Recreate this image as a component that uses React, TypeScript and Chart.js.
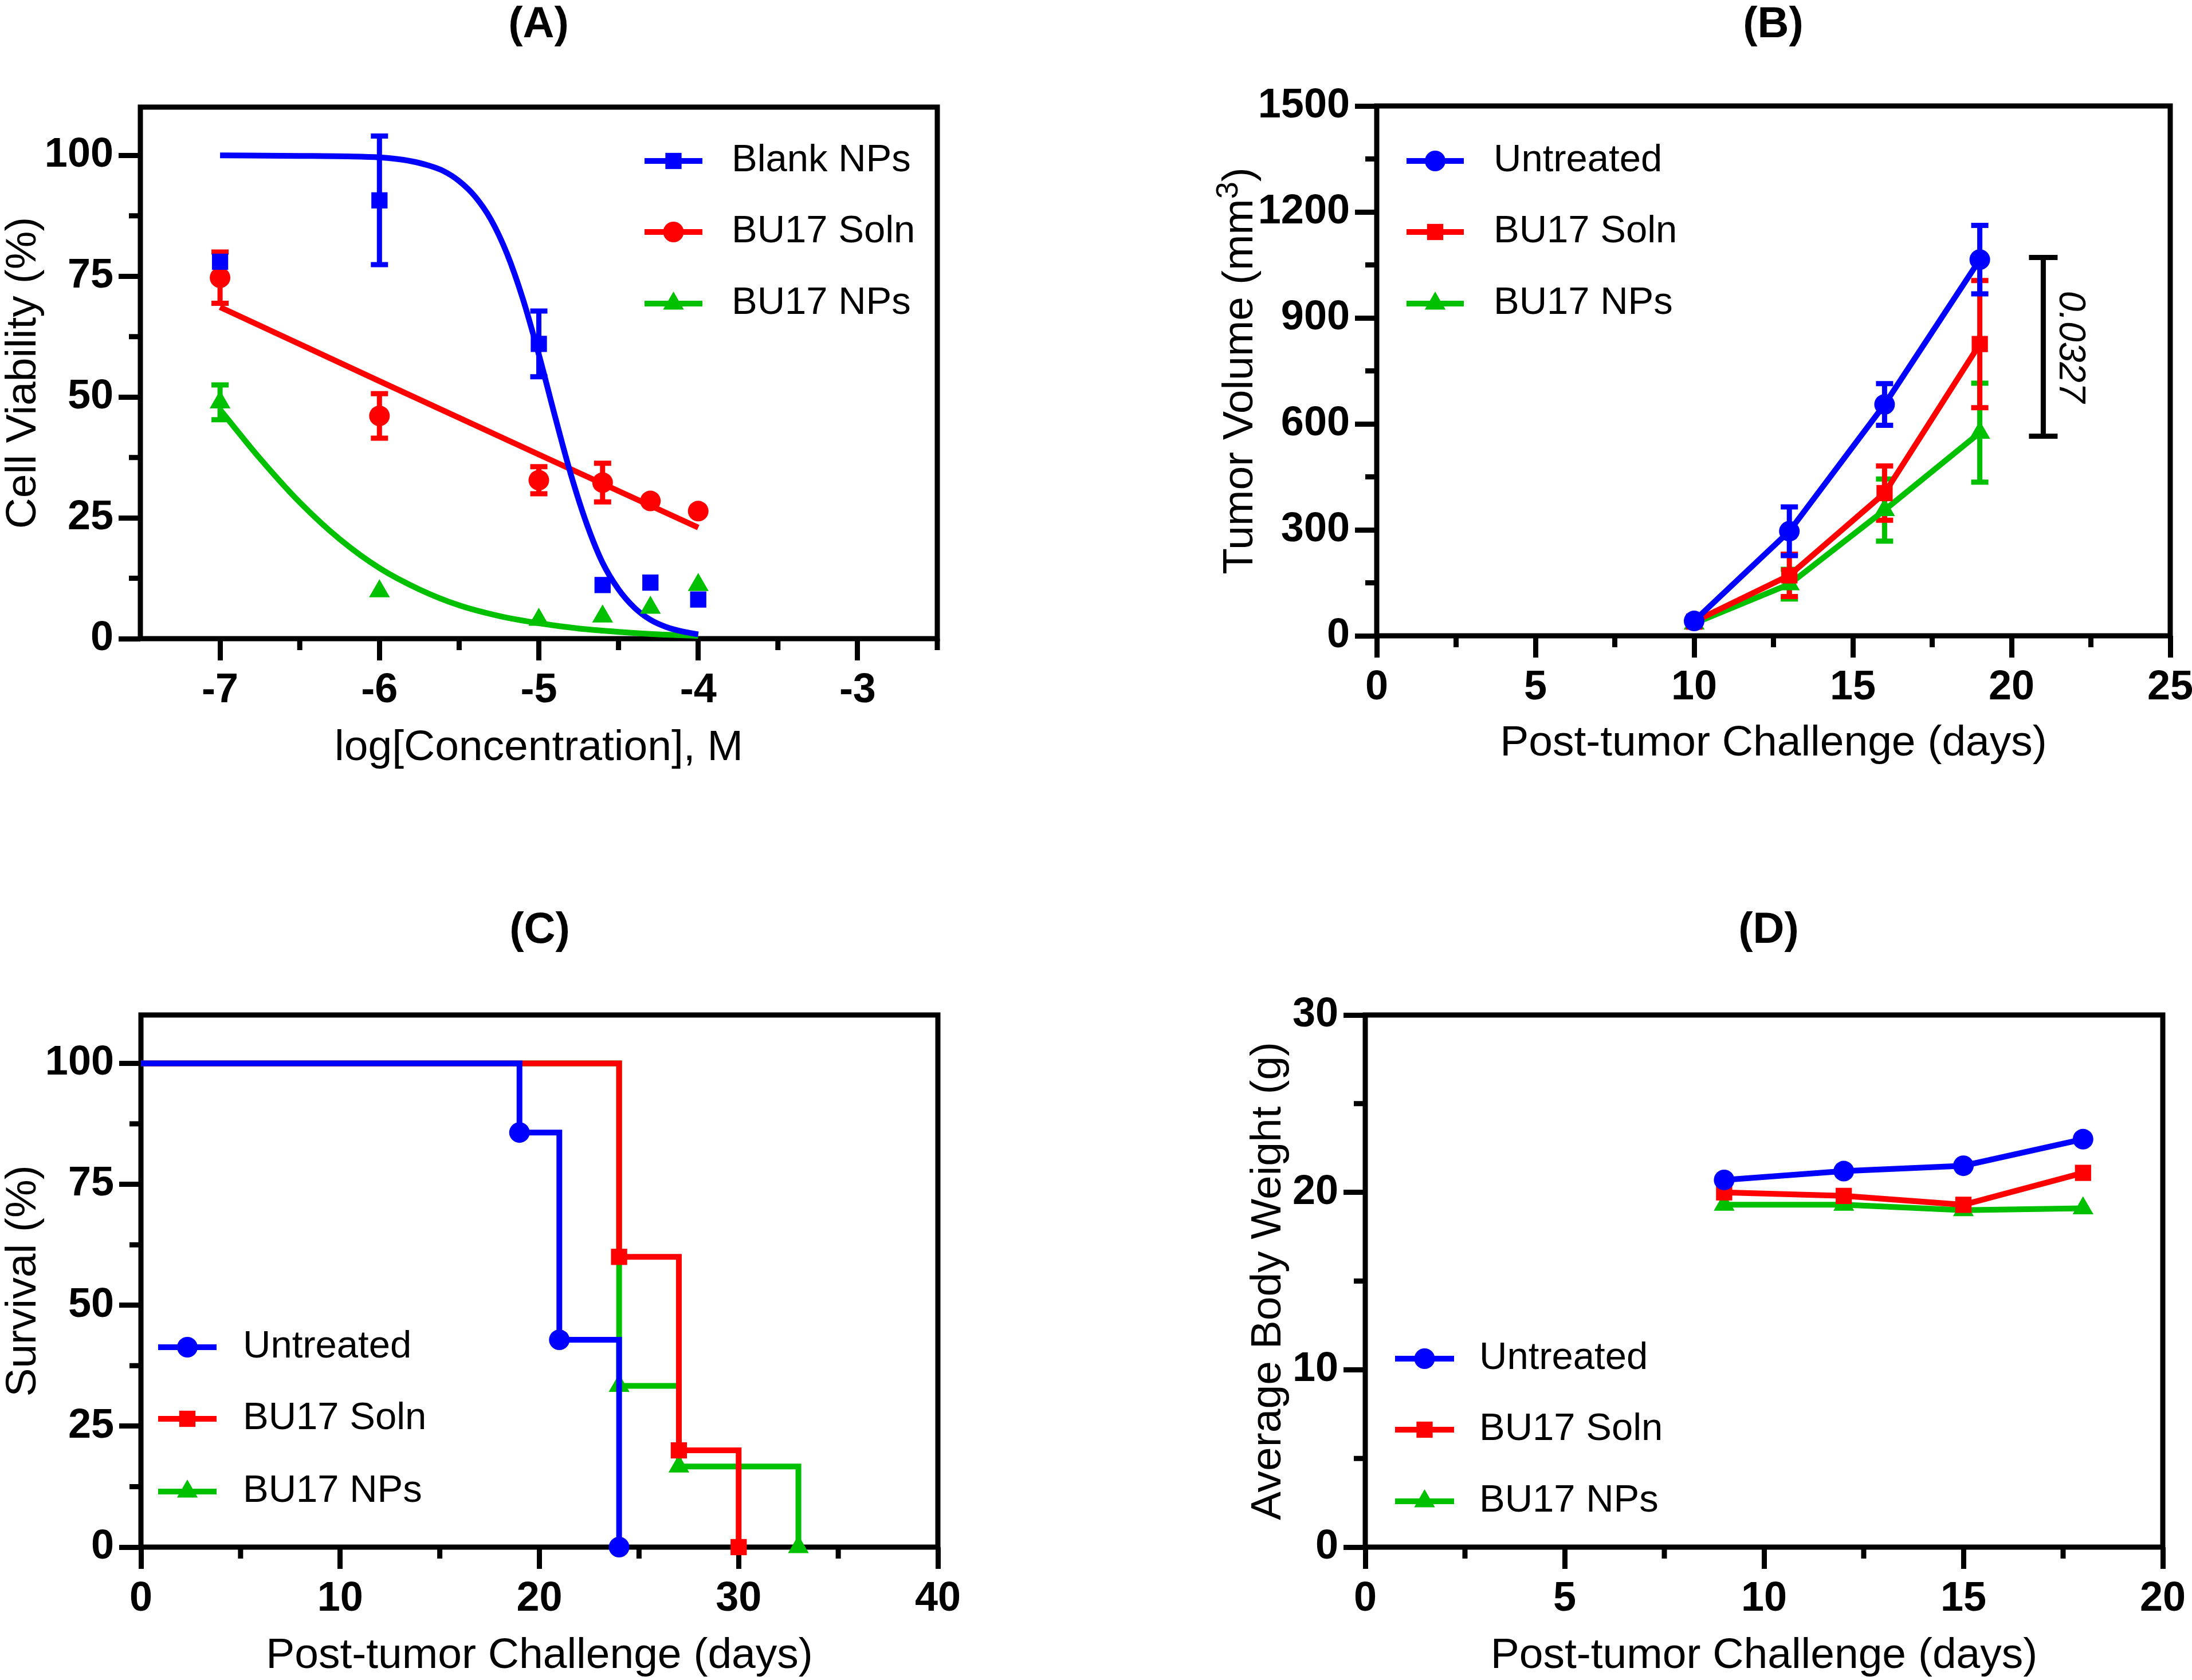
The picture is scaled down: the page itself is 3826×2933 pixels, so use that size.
import React, { useEffect, useRef } from 'react';
import { Chart, registerables } from 'chart.js';

Chart.register(...registerables);

const FONT = "Arial, 'Liberation Sans', Helvetica, sans-serif";
const BLUE = '#0000FF';
const RED = '#FF0000';
const GREEN = '#00C000';

// ---------------- Panel A : cell viability ----------------
const A_X = [-7, -6, -5, -4.6, -4.3, -4];
const A_BLANK = [78.0, 90.7, 61.0, 11.1, 11.6, 8.1];
const A_BLANK_ERR = [0, 13.3, 6.8, 0, 0, 0];
const A_SOLN = [74.7, 46.1, 32.8, 32.3, 28.5, 26.4];
const A_SOLN_ERR = [5.3, 4.6, 2.8, 4.0, 0, 0];
const A_NPS = [48.9, 9.8, 3.9, 4.6, 6.4, 11.1];
const A_NPS_ERR = [3.6, 0, 0, 0, 0, 0];
const A_BLANK_FIT_X = [-7, -6.5, -6.2, -6, -5.9, -5.8, -5.7, -5.6, -5.5, -5.4, -5.3, -5.2, -5.1, -5, -4.9, -4.8, -4.7, -4.6, -4.5, -4.4, -4.3, -4.2, -4.1, -4];
const A_BLANK_FIT_Y = [100, 99.9, 99.8, 99.6, 99.3, 98.8, 98.0, 96.8, 94.7, 91.5, 86.7, 79.7, 70.3, 58.8, 46.2, 34.1, 23.8, 15.7, 10.2, 6.4, 3.9, 2.4, 1.5, 0.9];
const A_SOLN_FIT_X = [-7, -6, -5, -4];
const A_SOLN_FIT_Y = [68.6, 53.3, 38.1, 23.0];
const A_NPS_FIT_X = [-7, -6.75, -6.5, -6.25, -6, -5.75, -5.5, -5.25, -5, -4.75, -4.5, -4.25, -4];
const A_NPS_FIT_Y = [47.4, 37.3, 28.2, 20.6, 14.6, 10.2, 6.9, 4.7, 3.2, 2.1, 1.4, 0.9, 0.6];
const A_X_TICKS = [-7, -6, -5, -4, -3];
const A_X_MINOR = [-6.5, -5.5, -4.5, -3.5, -2.5];
const A_Y_TICKS = [0, 25, 50, 75, 100];
const A_Y_MINOR = [12.5, 37.5, 62.5, 87.5];
const A_LEGEND = ['Blank NPs', 'BU17 Soln', 'BU17 NPs'];

// ---------------- Panel B : tumor volume ----------------
const B_X = [10, 13, 16, 19];
const B_UNTREATED = [42, 296, 655, 1065];
const B_UNTREATED_ERR = [0, 69, 59, 97];
const B_SOLN = [40, 171, 404, 826];
const B_SOLN_ERR = [0, 60, 77, 180];
const B_NPS = [35, 146, 356, 575];
const B_NPS_ERR = [0, 42, 88, 140];
const B_SIG_X = 21;
const B_SIG_Y = [565, 1071];
const B_SIG_LABEL = '0.0327';
const B_X_TICKS = [0, 5, 10, 15, 20, 25];
const B_X_MINOR = [2.5, 7.5, 12.5, 17.5, 22.5];
const B_Y_TICKS = [0, 300, 600, 900, 1200, 1500];
const B_Y_MINOR = [150, 450, 750, 1050, 1350];
const B_Y_TITLE = ['Tumor Volume (mm', '3', ')'];

// ---------------- Panel C : survival ----------------
const C_UNTREATED_X = [0, 19, 21, 24];
const C_UNTREATED_Y = [100, 85.71, 42.86, 0];
const C_SOLN_X = [0, 24, 27, 30];
const C_SOLN_Y = [100, 60, 20, 0];
const C_NPS_X = [0, 24, 27, 33];
const C_NPS_Y = [100, 33.33, 16.67, 0];
const C_X_TICKS = [0, 10, 20, 30, 40];
const C_X_MINOR = [5, 15, 25, 35];
const C_Y_TICKS = [0, 25, 50, 75, 100];
const C_Y_MINOR = [12.5, 37.5, 62.5, 87.5];

// ---------------- Panel D : body weight ----------------
const D_X = [9, 12, 15, 18];
const D_UNTREATED = [20.7, 21.2, 21.5, 23.0];
const D_SOLN = [20.0, 19.8, 19.3, 21.1];
const D_NPS = [19.3, 19.3, 19.0, 19.1];
const D_X_TICKS = [0, 5, 10, 15, 20];
const D_X_MINOR = [2.5, 7.5, 12.5, 17.5];
const D_Y_TICKS = [0, 10, 20, 30];
const D_Y_MINOR = [5, 15, 25];

const GROUP_LEGEND = ['Untreated', 'BU17 Soln', 'BU17 NPs'];

const RADIUS: any = { circle: 18, rect: 20, triangle: 21 };
const LINE_W = 10;

const pts = (xs: number[], ys: number[]) => xs.map((x, i) => ({ x, y: ys[i] }));

function drawMarker(ctx: any, style: string, x: number, y: number) {
  const r = RADIUS[style];
  ctx.beginPath();
  if (style === 'circle') {
    ctx.arc(x, y, r, 0, Math.PI * 2);
  } else if (style === 'rect') {
    const s = r * Math.SQRT1_2;
    ctx.rect(x - s, y - s, 2 * s, 2 * s);
  } else {
    ctx.moveTo(x, y - r);
    ctx.lineTo(x + r * Math.sin((2 * Math.PI) / 3), y - r * Math.cos((2 * Math.PI) / 3));
    ctx.lineTo(x + r * Math.sin((4 * Math.PI) / 3), y - r * Math.cos((4 * Math.PI) / 3));
    ctx.closePath();
  }
  ctx.fill();
}

function lineSet(label: string, color: string, style: string, data: any[], extra: any = {}) {
  return {
    label,
    data,
    borderColor: color,
    backgroundColor: color,
    borderWidth: LINE_W,
    pointStyle: style,
    pointRadius: RADIUS[style],
    pointBackgroundColor: color,
    pointBorderWidth: 0,
    pointHoverRadius: RADIUS[style],
    clip: false,
    showLine: true,
    tension: 0,
    ...extra,
  };
}

function geom(spec: any) {
  const [L, T, R, B] = spec.area;
  const left = spec.yTitleX - 45;
  const top = spec.canvasTop;
  const padRight = 130;
  const width = R + padRight - left;
  const height = spec.xTitleY + 45 - top;
  return {
    left,
    top,
    width,
    height,
    padTop: T - top,
    padRight,
    yWidth: L - left,
    xHeight: spec.xTitleY + 45 - B,
  };
}

function makeDecor(spec: any, g: any) {
  return {
    id: 'decor',
    beforeDatasetsDraw(chart: any) {
      const ctx = chart.ctx;
      const ca = chart.chartArea;
      const xs = chart.scales.x;
      const ys = chart.scales.y;
      ctx.save();
      ctx.strokeStyle = '#000';
      ctx.lineWidth = 9;
      ctx.lineJoin = 'miter';
      ctx.lineCap = 'butt';
      ctx.strokeRect(ca.left, ca.top, ca.right - ca.left, ca.bottom - ca.top);
      ctx.beginPath();
      spec.xMinor.forEach((v: number) => {
        const p = xs.getPixelForValue(v);
        ctx.moveTo(p, ca.bottom);
        ctx.lineTo(p, ca.bottom + 20);
      });
      spec.yMinor.forEach((v: number) => {
        const p = ys.getPixelForValue(v);
        ctx.moveTo(ca.left, p);
        ctx.lineTo(ca.left - 20, p);
      });
      ctx.stroke();
      (spec.errors || []).forEach((e: any) => {
        ctx.strokeStyle = e.color;
        ctx.lineWidth = 9;
        ctx.beginPath();
        e.xs.forEach((xv: number, i: number) => {
          const err = e.err[i];
          if (!err) return;
          const px = xs.getPixelForValue(xv);
          const p1 = ys.getPixelForValue(e.ys[i] + err);
          const p2 = ys.getPixelForValue(e.ys[i] - err);
          ctx.moveTo(px, p1);
          ctx.lineTo(px, p2);
          ctx.moveTo(px - 15, p1);
          ctx.lineTo(px + 15, p1);
          ctx.moveTo(px - 15, p2);
          ctx.lineTo(px + 15, p2);
        });
        ctx.stroke();
      });
      ctx.restore();
    },
    afterDraw(chart: any) {
      const ctx = chart.ctx;
      ctx.save();
      // panel title
      ctx.fillStyle = '#000';
      ctx.font = `bold 76px ${FONT}`;
      ctx.textAlign = 'center';
      ctx.textBaseline = 'middle';
      ctx.fillText(spec.title, spec.titlePos[0] - g.left, spec.titlePos[1] - g.top);
      // legend
      const lg = spec.legend;
      lg.labels.forEach((lab: string, i: number) => {
        const y = lg.rows[i] - g.top;
        const x1 = lg.x1 - g.left;
        const x2 = lg.x2 - g.left;
        ctx.strokeStyle = lg.colors[i];
        ctx.fillStyle = lg.colors[i];
        ctx.lineWidth = LINE_W;
        ctx.beginPath();
        ctx.moveTo(x1, y);
        ctx.lineTo(x2, y);
        ctx.stroke();
        drawMarker(ctx, lg.styles[i], (x1 + x2) / 2, y);
        ctx.fillStyle = '#000';
        ctx.font = `67px ${FONT}`;
        ctx.textAlign = 'left';
        ctx.textBaseline = 'middle';
        ctx.fillText(lab, lg.tx - g.left, y);
      });
      if (spec.extra) spec.extra(ctx, chart, g);
      ctx.restore();
    },
  };
}

function buildConfig(spec: any, g: any) {
  const tickFont = { family: FONT, size: 72, weight: 'bold' };
  const titleFont = { family: FONT, size: 75, weight: 'normal', lineHeight: 1.2 };
  const grid = {
    display: true,
    drawOnChartArea: false,
    drawTicks: true,
    tickLength: 38,
    tickWidth: 9,
    tickColor: '#000',
  };
  return {
    type: 'line',
    data: { datasets: spec.datasets },
    options: {
      animation: false,
      responsive: false,
      devicePixelRatio: 1,
      events: [],
      layout: { padding: { top: g.padTop, left: 0, right: g.padRight, bottom: 0 } },
      plugins: {
        legend: { display: false },
        title: { display: false },
        tooltip: { enabled: false },
      },
      scales: {
        x: {
          type: 'linear',
          position: 'bottom',
          min: spec.xMin,
          max: spec.xMax,
          afterBuildTicks: (s: any) => {
            s.ticks = spec.xTicks.map((v: number) => ({ value: v }));
          },
          afterFit: (s: any) => {
            s.height = g.xHeight;
          },
          ticks: {
            font: tickFont,
            color: '#000',
            padding: 10,
            maxRotation: 0,
            minRotation: 0,
            autoSkip: false,
            callback: (v: any) => String(v),
          },
          grid,
          border: { display: false },
          title: { display: true, text: spec.xLabel, font: titleFont, color: '#000', padding: 0 },
        },
        y: {
          type: 'linear',
          position: 'left',
          min: spec.yMin,
          max: spec.yMax,
          afterBuildTicks: (s: any) => {
            s.ticks = spec.yTicks.map((v: number) => ({ value: v }));
          },
          afterFit: (s: any) => {
            s.width = g.yWidth;
          },
          ticks: {
            font: tickFont,
            color: '#000',
            padding: 9,
            autoSkip: false,
            callback: (v: any) => String(v),
          },
          grid,
          border: { display: false },
          title: {
            display: !!spec.yLabel,
            text: spec.yLabel || '',
            font: titleFont,
            color: '#000',
            padding: 0,
          },
        },
      },
    },
    plugins: [makeDecor(spec, g)],
  };
}

function Panel({ spec }: { spec: any }) {
  const ref = useRef<HTMLCanvasElement>(null);
  const g = geom(spec);
  useEffect(() => {
    const chart = new Chart(ref.current as any, buildConfig(spec, g) as any);
    return () => chart.destroy();
  }, []);
  return (
    <canvas
      ref={ref}
      width={g.width}
      height={g.height}
      style={{ position: 'absolute', left: g.left, top: g.top, width: g.width, height: g.height }}
    />
  );
}

const SPEC_A = {
  area: [245, 187, 1636, 1115],
  canvasTop: 0,
  yTitleX: 41,
  xTitleY: 1306,
  title: '(A)',
  titlePos: [940, 44],
  xMin: -7.5,
  xMax: -2.5,
  yMin: 0,
  yMax: 110,
  xTicks: A_X_TICKS,
  yTicks: A_Y_TICKS,
  xMinor: A_X_MINOR,
  yMinor: A_Y_MINOR,
  xLabel: 'log[Concentration], M',
  yLabel: 'Cell Viability (%)',
  datasets: [
    lineSet('Blank NPs', BLUE, 'rect', pts(A_X, A_BLANK), { showLine: false }),
    lineSet('BU17 Soln', RED, 'circle', pts(A_X, A_SOLN), { showLine: false }),
    lineSet('BU17 NPs', GREEN, 'triangle', pts(A_X, A_NPS), { showLine: false }),
    lineSet('Blank NPs fit', BLUE, 'circle', pts(A_BLANK_FIT_X, A_BLANK_FIT_Y), { pointRadius: 0, cubicInterpolationMode: 'monotone' }),
    lineSet('BU17 Soln fit', RED, 'circle', pts(A_SOLN_FIT_X, A_SOLN_FIT_Y), { pointRadius: 0, cubicInterpolationMode: 'monotone' }),
    lineSet('BU17 NPs fit', GREEN, 'circle', pts(A_NPS_FIT_X, A_NPS_FIT_Y), { pointRadius: 0, cubicInterpolationMode: 'monotone' }),
  ],
  errors: [
    { color: BLUE, xs: A_X, ys: A_BLANK, err: A_BLANK_ERR },
    { color: RED, xs: A_X, ys: A_SOLN, err: A_SOLN_ERR },
    { color: GREEN, xs: A_X, ys: A_NPS, err: A_NPS_ERR },
  ],
  legend: {
    labels: A_LEGEND,
    colors: [BLUE, RED, GREEN],
    styles: ['rect', 'circle', 'triangle'],
    x1: 1125,
    x2: 1226,
    tx: 1277,
    rows: [281, 405, 530],
  },
};

const SPEC_B = {
  area: [2403, 185, 3788, 1110],
  canvasTop: 0,
  yTitleX: 2160,
  xTitleY: 1298,
  title: '(B)',
  titlePos: [3095, 44],
  xMin: 0,
  xMax: 25,
  yMin: 0,
  yMax: 1500,
  xTicks: B_X_TICKS,
  yTicks: B_Y_TICKS,
  xMinor: B_X_MINOR,
  yMinor: B_Y_MINOR,
  xLabel: 'Post-tumor Challenge (days)',
  yLabel: '',
  datasets: [
    lineSet('Untreated', BLUE, 'circle', pts(B_X, B_UNTREATED)),
    lineSet('BU17 Soln', RED, 'rect', pts(B_X, B_SOLN)),
    lineSet('BU17 NPs', GREEN, 'triangle', pts(B_X, B_NPS)),
  ],
  errors: [
    { color: GREEN, xs: B_X, ys: B_NPS, err: B_NPS_ERR },
    { color: RED, xs: B_X, ys: B_SOLN, err: B_SOLN_ERR },
    { color: BLUE, xs: B_X, ys: B_UNTREATED, err: B_UNTREATED_ERR },
  ],
  legend: {
    labels: GROUP_LEGEND,
    colors: [BLUE, RED, GREEN],
    styles: ['circle', 'rect', 'triangle'],
    x1: 2455,
    x2: 2555,
    tx: 2607,
    rows: [281, 405, 530],
  },
  extra: (ctx: any, chart: any, g: any) => {
    const xs = chart.scales.x;
    const ys = chart.scales.y;
    const ca = chart.chartArea;
    // y-axis title with superscript
    ctx.save();
    ctx.translate(2160 - g.left, (ca.top + ca.bottom) / 2);
    ctx.rotate(-Math.PI / 2);
    ctx.fillStyle = '#000';
    ctx.textBaseline = 'alphabetic';
    ctx.textAlign = 'left';
    const mainFont = `75px ${FONT}`;
    const supFont = `54px ${FONT}`;
    ctx.font = mainFont;
    const w1 = ctx.measureText(B_Y_TITLE[0]).width;
    const w3 = ctx.measureText(B_Y_TITLE[2]).width;
    ctx.font = supFont;
    const w2 = ctx.measureText(B_Y_TITLE[1]).width;
    const total = w1 + w2 + w3;
    let x0 = -total / 2;
    const base = 26;
    ctx.font = mainFont;
    ctx.fillText(B_Y_TITLE[0], x0, base);
    x0 += w1;
    ctx.font = supFont;
    ctx.fillText(B_Y_TITLE[1], x0, base - 26);
    x0 += w2;
    ctx.font = mainFont;
    ctx.fillText(B_Y_TITLE[2], x0, base);
    ctx.restore();
    // significance bracket
    const px = xs.getPixelForValue(B_SIG_X);
    const p1 = ys.getPixelForValue(B_SIG_Y[1]);
    const p2 = ys.getPixelForValue(B_SIG_Y[0]);
    ctx.strokeStyle = '#000';
    ctx.lineWidth = 9;
    ctx.beginPath();
    ctx.moveTo(px, p1);
    ctx.lineTo(px, p2);
    ctx.moveTo(px - 25, p1);
    ctx.lineTo(px + 25, p1);
    ctx.moveTo(px - 25, p2);
    ctx.lineTo(px + 25, p2);
    ctx.stroke();
    ctx.save();
    ctx.translate(px + 46, (p1 + p2) / 2);
    ctx.rotate(Math.PI / 2);
    ctx.fillStyle = '#000';
    ctx.font = `italic 64px ${FONT}`;
    ctx.textAlign = 'center';
    ctx.textBaseline = 'middle';
    ctx.fillText(B_SIG_LABEL, 0, 0);
    ctx.restore();
  },
};

const stepRadii = (style: string) => [0, RADIUS[style], RADIUS[style], RADIUS[style]];

const SPEC_C = {
  area: [246, 1772, 1637, 2701],
  canvasTop: 1450,
  yTitleX: 41,
  xTitleY: 2891,
  title: '(C)',
  titlePos: [942, 1625],
  xMin: 0,
  xMax: 40,
  yMin: 0,
  yMax: 110,
  xTicks: C_X_TICKS,
  yTicks: C_Y_TICKS,
  xMinor: C_X_MINOR,
  yMinor: C_Y_MINOR,
  xLabel: 'Post-tumor Challenge (days)',
  yLabel: 'Survival (%)',
  datasets: [
    lineSet('Untreated', BLUE, 'circle', pts(C_UNTREATED_X, C_UNTREATED_Y), { stepped: true, pointRadius: stepRadii('circle') }),
    lineSet('BU17 Soln', RED, 'rect', pts(C_SOLN_X, C_SOLN_Y), { stepped: true, pointRadius: stepRadii('rect') }),
    lineSet('BU17 NPs', GREEN, 'triangle', pts(C_NPS_X, C_NPS_Y), { stepped: true, pointRadius: stepRadii('triangle') }),
  ],
  errors: [],
  legend: {
    labels: GROUP_LEGEND,
    colors: [BLUE, RED, GREEN],
    styles: ['circle', 'rect', 'triangle'],
    x1: 276,
    x2: 378,
    tx: 424,
    rows: [2352, 2477, 2604],
  },
};

const SPEC_D = {
  area: [2383, 1772, 3775, 2701],
  canvasTop: 1450,
  yTitleX: 2214,
  xTitleY: 2891,
  title: '(D)',
  titlePos: [3087, 1625],
  xMin: 0,
  xMax: 20,
  yMin: 0,
  yMax: 30,
  xTicks: D_X_TICKS,
  yTicks: D_Y_TICKS,
  xMinor: D_X_MINOR,
  yMinor: D_Y_MINOR,
  xLabel: 'Post-tumor Challenge (days)',
  yLabel: 'Average Body Weight (g)',
  datasets: [
    lineSet('Untreated', BLUE, 'circle', pts(D_X, D_UNTREATED)),
    lineSet('BU17 Soln', RED, 'rect', pts(D_X, D_SOLN)),
    lineSet('BU17 NPs', GREEN, 'triangle', pts(D_X, D_NPS)),
  ],
  errors: [],
  legend: {
    labels: GROUP_LEGEND,
    colors: [BLUE, RED, GREEN],
    styles: ['circle', 'rect', 'triangle'],
    x1: 2435,
    x2: 2538,
    tx: 2582,
    rows: [2372, 2496, 2621],
  },
};

export default function App() {
  return (
    <div
      style={{
        position: 'absolute',
        left: 0,
        top: 0,
        width: 3826,
        height: 2933,
        overflow: 'hidden',
        background: '#ffffff',
      }}
    >
      <Panel spec={SPEC_A} />
      <Panel spec={SPEC_B} />
      <Panel spec={SPEC_C} />
      <Panel spec={SPEC_D} />
    </div>
  );
}
